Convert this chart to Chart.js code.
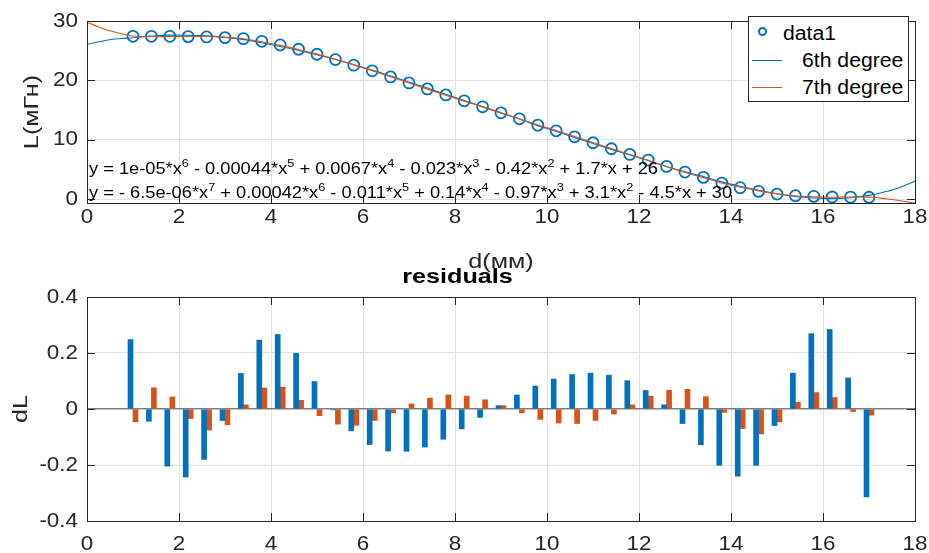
<!DOCTYPE html>
<html>
<head>
<meta charset="utf-8">
<script src="https://cdn.jsdelivr.net/npm/chart.js@4.4.1/dist/chart.umd.min.js"></script>
<style>
body{margin:0;background:#fff;width:929px;height:553px;overflow:hidden;position:relative;font-family:"Liberation Sans",Arial,sans-serif}
canvas{position:absolute;left:0}
#fitChart{top:0}
#residChart{top:258px}
.legend{position:absolute;left:748px;top:16px;width:161px;height:86px;border:1px solid #262626;background:#fff;box-sizing:border-box}
.lg-text{position:absolute;font-size:20px;line-height:20px;color:#000;white-space:nowrap;transform:scaleX(1.06);transform-origin:left center}
.lg-line{position:absolute;width:30px;height:0;border-top:1.2px solid}
.lg-mark{position:absolute;width:5px;height:5px;border:2px solid #0072BD;border-radius:50%}
.eq{position:absolute;left:89px;font-size:16px;line-height:16px;color:#000;white-space:nowrap;transform:scaleX(1.14);transform-origin:left center}
.eq sup{font-size:70%;vertical-align:baseline;position:relative;top:-0.6em}
</style>
</head>
<body>
<canvas id="fitChart" width="929" height="280"></canvas>
<div class="eq" style="top:161px">y = 1e-05*x<sup>6</sup> - 0.00044*x<sup>5</sup> + 0.0067*x<sup>4</sup> - 0.023*x<sup>3</sup> - 0.42*x<sup>2</sup> + 1.7*x + 26</div>
<div class="eq" style="top:185px">y = - 6.5e-06*x<sup>7</sup> + 0.00042*x<sup>6</sup> - 0.011*x<sup>5</sup> + 0.14*x<sup>4</sup> - 0.97*x<sup>3</sup> + 3.1*x<sup>2</sup> - 4.5*x + 30</div>
<div class="legend">
  <span class="lg-mark" style="left:9px;top:10px"></span>
  <span class="lg-text" style="left:34px;top:6px">data1</span>
  <span class="lg-line" style="left:3px;top:43px;border-color:#0072BD"></span>
  <span class="lg-text" style="left:53px;top:33px">6th degree</span>
  <span class="lg-line" style="left:3px;top:70px;border-color:#D95319"></span>
  <span class="lg-text" style="left:53px;top:60px">7th degree</span>
</div>
<canvas id="residChart" width="929" height="295"></canvas>
<script>
const dataX = [1, 1.4, 1.8, 2.2, 2.6, 3, 3.4, 3.8, 4.2, 4.6, 5, 5.4, 5.8, 6.2, 6.6, 7, 7.4, 7.8, 8.2, 8.6, 9, 9.4, 9.8, 10.2, 10.6, 11, 11.4, 11.8, 12.2, 12.6, 13, 13.4, 13.8, 14.2, 14.6, 15, 15.4, 15.8, 16.2, 16.6, 17];
const dataL = [27.42, 27.42, 27.42, 27.37, 27.31, 27.2, 27.03, 26.58, 25.97, 25.24, 24.4, 23.5, 22.55, 21.6, 20.58, 19.57, 18.56, 17.55, 16.55, 15.54, 14.53, 13.52, 12.45, 11.5, 10.49, 9.48, 8.47, 7.52, 6.56, 5.5, 4.54, 3.65, 2.69, 1.91, 1.29, 0.84, 0.56, 0.45, 0.34, 0.32, 0.3];

// fitted curves
const fitX = [0, 0.25, 0.5, 0.75, 1, 1.4, 1.8, 2.2, 2.6, 3, 3.4, 3.8, 4.2, 4.6, 5, 5.4, 5.8, 6.2, 6.6, 7, 7.4, 7.8, 8.2, 8.6, 9, 9.4, 9.8, 10.2, 10.6, 11, 11.4, 11.8, 12.2, 12.6, 13, 13.4, 13.8, 14.2, 14.6, 15, 15.4, 15.8, 16.2, 16.6, 17, 17.25, 17.5, 17.75, 18];
const fit6 = [26.07, 26.5, 26.85, 27.05, 27.17, 27.46, 27.62, 27.61, 27.49, 27.24, 26.9, 26.33, 25.7, 25.04, 24.3, 23.5, 22.63, 21.73, 20.73, 19.72, 18.7, 17.66, 16.62, 15.57, 14.52, 13.47, 12.37, 11.39, 10.37, 9.35, 8.35, 7.42, 6.49, 5.49, 4.59, 3.78, 2.89, 2.15, 1.49, 0.9, 0.43, 0.18, 0.06, 0.21, 0.61, 1.02, 1.52, 2.2, 3.03];
const fit7 = [29.8, 29.0, 28.35, 27.85, 27.47, 27.34, 27.38, 27.4, 27.39, 27.26, 27.02, 26.51, 25.89, 25.21, 24.42, 23.55, 22.61, 21.64, 20.59, 19.55, 18.52, 17.5, 16.5, 15.51, 14.52, 13.53, 12.49, 11.55, 10.54, 9.52, 8.49, 7.51, 6.51, 5.43, 4.47, 3.61, 2.7, 1.98, 1.38, 0.89, 0.54, 0.39, 0.3, 0.33, 0.32, 0.15, -0.08, -0.38, -0.73];

// residuals (data - fit)
const resid6 = [0.248, -0.044, -0.204, -0.243, -0.18, -0.041, 0.127, 0.246, 0.266, 0.199, 0.098, -0.003, -0.078, -0.127, -0.15, -0.151, -0.136, -0.108, -0.071, -0.03, 0.012, 0.05, 0.082, 0.107, 0.123, 0.128, 0.121, 0.101, 0.066, 0.015, -0.052, -0.128, -0.201, -0.24, -0.201, -0.059, 0.128, 0.269, 0.284, 0.111, -0.314];
const resid7 = [-0.046, 0.076, 0.043, -0.034, -0.075, -0.056, 0.015, 0.075, 0.078, 0.031, -0.024, -0.054, -0.058, -0.041, -0.014, 0.018, 0.039, 0.05, 0.046, 0.033, 0.012, -0.014, -0.037, -0.05, -0.052, -0.041, -0.018, 0.015, 0.046, 0.067, 0.07, 0.044, -0.012, -0.07, -0.089, -0.046, 0.024, 0.059, 0.041, -0.009, -0.022];

const xTicks = [0, 2, 4, 6, 8, 10, 12, 14, 16, 18];
const yTicksFit = [0, 10, 20, 30];
const yTicksResid = [-0.4, -0.2, 0, 0.2, 0.4];

const axisColor = '#262626';
const gridColor = '#e3e3e3';
const blue = '#0072BD';
const orange = '#D95319';

const pts = (xs, ys) => xs.map((x, i) => ({x: x, y: ys[i]}));

// matlab text is wider than Arial, stretch canvas text a bit
const wideText = {
    id: 'wideText',
    beforeDraw(chart) {
        const ctx = chart.ctx;
        if (ctx._wide) return;
        const fill = ctx.fillText.bind(ctx);
        ctx.fillText = function (text, x, y) {
            const k = ctx.font.indexOf('20px') >= 0 ? 1.12 : 1.2;
            ctx.save();
            ctx.translate(x, y);
            ctx.scale(k, 1);
            fill(text, 0, 0);
            ctx.restore();
        };
        ctx._wide = true;
    }
};

// axes box with inward tick marks
const axesBox = {
    id: 'axesBox',
    afterDraw(chart) {
        const {ctx, chartArea: a, scales} = chart;
        ctx.save();
        ctx.strokeStyle = axisColor;
        ctx.lineWidth = 1;
        ctx.beginPath();
        scales.x.ticks.forEach(t => {
            const px = Math.round(scales.x.getPixelForValue(t.value)) + 0.5;
            ctx.moveTo(px, a.bottom); ctx.lineTo(px, a.bottom - 8);
            ctx.moveTo(px, a.top); ctx.lineTo(px, a.top + 8);
        });
        scales.y.ticks.forEach(t => {
            const py = Math.round(scales.y.getPixelForValue(t.value)) + 0.5;
            ctx.moveTo(a.left, py); ctx.lineTo(a.left + 8, py);
            ctx.moveTo(a.right, py); ctx.lineTo(a.right - 8, py);
        });
        ctx.stroke();
        ctx.strokeRect(Math.round(a.left) + 0.5, Math.round(a.top) + 0.5, Math.round(a.width), Math.round(a.height));
        ctx.restore();
    }
};

// tickGap pushes the labels down without adding side padding
function xScale(tickGap, height, title) {
    return {
        type: 'linear', min: 0, max: 18, offset: false,
        afterBuildTicks: s => { s.ticks = xTicks.map(v => ({value: v})); },
        afterFit: s => { s.height = height; },
        grid: {color: gridColor, drawTicks: tickGap > 0, tickLength: tickGap, tickColor: 'rgba(0,0,0,0)', offset: false},
        border: {display: false},
        ticks: {color: axisColor, font: {size: 20}, padding: 2, autoSkip: false, maxRotation: 0},
        title: title
    };
}

Chart.defaults.font.family = '"Liberation Sans", Arial, sans-serif';
Chart.defaults.color = axisColor;

new Chart(document.getElementById('fitChart'), {
    type: 'scatter',
    data: {
        datasets: [
            {label: 'data1', data: pts(dataX, dataL), order: 3, pointStyle: 'circle', pointRadius: 5.5, pointBorderWidth: 1.8, borderColor: blue, backgroundColor: 'rgba(0,0,0,0)'},
            {label: '6th degree', data: pts(fitX, fit6), order: 2, showLine: true, pointRadius: 0, borderWidth: 1.1, borderColor: blue, cubicInterpolationMode: 'monotone'},
            {label: '7th degree', data: pts(fitX, fit7), order: 1, showLine: true, pointRadius: 0, borderWidth: 1.1, borderColor: orange, cubicInterpolationMode: 'monotone'}
        ]
    },
    options: {
        responsive: false, animation: false,
        layout: {padding: {top: 21, right: 14, left: 0, bottom: 0}},
        plugins: {legend: {display: false}, tooltip: {enabled: false}},
        scales: {
            x: xScale(0, 77, {display: true, text: 'd(мм)', color: axisColor, font: {size: 21}, padding: {top: 0, bottom: 5}}),
            y: {
                min: -0.67, max: 30,
                afterBuildTicks: s => { s.ticks = yTicksFit.map(v => ({value: v})); },
                afterFit: s => { s.width = 87; },
                grid: {color: gridColor, drawTicks: false},
                border: {display: false},
                ticks: {color: axisColor, font: {size: 20}, padding: 9},
                title: {display: true, text: 'L(мГн)', color: axisColor, font: {size: 21}, padding: {top: 20, bottom: 0}}
            }
        }
    },
    plugins: [wideText, axesBox]
});

new Chart(document.getElementById('residChart'), {
    type: 'bar',
    data: {
        datasets: [
            {label: '6th degree', data: pts(dataX, resid6), backgroundColor: blue, barThickness: 5},
            {label: '7th degree', data: pts(dataX, resid7), backgroundColor: orange, barThickness: 5}
        ]
    },
    options: {
        responsive: false, animation: false,
        layout: {padding: {top: 0, right: 14, left: 0, bottom: 0}},
        plugins: {
            legend: {display: false}, tooltip: {enabled: false},
            title: {display: true, text: 'residuals', color: '#000', font: {size: 21, weight: 'bold'}, padding: {top: 7, bottom: 6.8}}
        },
        scales: {
            x: xScale(9, 32, {display: false}),
            y: {
                min: -0.4, max: 0.4,
                afterBuildTicks: s => { s.ticks = yTicksResid.map(v => ({value: v})); },
                afterFit: s => { s.width = 87; },
                grid: {
                    drawTicks: false,
                    color: c => c.tick && c.tick.value === 0 ? '#7f7f7f' : gridColor,
                    lineWidth: c => c.tick && c.tick.value === 0 ? 1.5 : 1
                },
                border: {display: false},
                ticks: {color: axisColor, font: {size: 20}, padding: 9, callback: v => String(v)},
                title: {display: true, text: 'dL', color: axisColor, font: {size: 21}, padding: {top: 9, bottom: 0}}
            }
        }
    },
    plugins: [wideText, axesBox]
});
</script>
</body>
</html>
